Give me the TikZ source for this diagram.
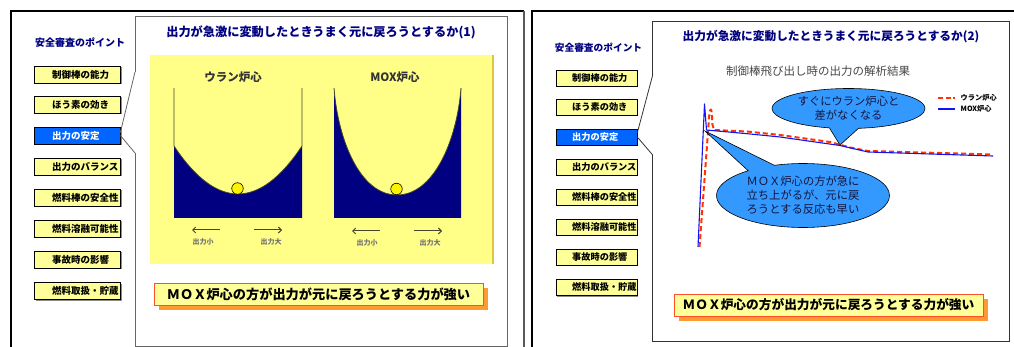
\documentclass[tikz,border=0pt]{standalone}
\usepackage{fontspec}
\setmainfont{Noto Sans CJK JP}
\usetikzlibrary{shapes.geometric,shapes.callouts,shadows,arrows.meta,calc}
\definecolor{navy}{RGB}{0,0,128}
\definecolor{btnyellow}{RGB}{255,255,153}
\definecolor{btnblue}{RGB}{0,102,255}
\definecolor{panelyellow}{RGB}{255,255,136}
\definecolor{gold}{RGB}{225,195,70}
\definecolor{wellnavy}{RGB}{0,0,128}
\definecolor{callblue}{RGB}{51,153,255}
\definecolor{redline}{RGB}{255,51,0}
\definecolor{blueline}{RGB}{20,20,240}
\definecolor{conborder}{RGB}{255,80,40}
\definecolor{conshadow}{RGB}{255,153,51}
\definecolor{wall}{RGB}{70,70,45}
\definecolor{calltext}{RGB}{20,20,60}
\tikzset{
  frame/.style={line width=2pt, black},
  panel/.style={line width=0.8pt, black!60},
  panelR/.style={line width=0.8pt, black!80},
  sidetitle/.style={text=navy, inner sep=0pt},
  btnL/.style={draw=black, line width=0.7pt, fill=btnyellow, minimum height=17pt,
    inner xsep=18pt, inner ysep=0pt, text width=50pt, align=left,
    font=\fontsize{9.5}{10}\selectfont\bfseries,
    drop shadow={shadow xshift=1.5pt, shadow yshift=-1.5pt, fill=black!45, opacity=1}},
  btnR/.style={btnL, minimum height=16pt, inner xsep=16.3pt, text width=48.4pt,
    font=\fontsize{9.2}{10}\selectfont\bfseries},
  sel/.style={fill=btnblue, text=white, draw=black},
  maintitle/.style={text=navy, inner sep=0pt},
  welllabel/.style={text=black!80, inner sep=0pt, font=\fontsize{11.5}{12}\selectfont\bfseries},
  dirlabel/.style={text=black!55, inner sep=0pt, font=\fontsize{7}{8}\selectfont\bfseries},
  dirarrow/.style={draw=wall, line width=1pt, -{Straight Barb[length=3pt,width=6pt]}},
  wallline/.style={draw=wall, line width=0.8pt},
  ball/.style={circle, draw=black, line width=0.6pt, fill=yellow, minimum size=11.5pt, inner sep=0pt},
  concl/.style={draw=conborder, line width=0.8pt, fill=btnyellow, minimum height=22pt,
    inner sep=0pt, drop shadow={shadow xshift=5pt, shadow yshift=-5pt, fill=conshadow, opacity=1}},
  callout/.style={ellipse callout, draw=black, line width=0.6pt, fill=callblue, inner sep=0pt,
    align=center, text=calltext, font=\fontsize{11.3}{14}\selectfont},
  reddash/.style={draw=redline, line width=2pt, dash pattern=on 5pt off 3pt},
  bluesolid/.style={draw=blueline, line width=1.1pt},
  legendtext/.style={anchor=west, inner sep=0pt, font=\fontsize{7.2}{8}\selectfont\bfseries},
}
\begin{document}
\begin{tikzpicture}[x=1pt,y=-1pt]
\useasboundingbox (0,0) rectangle (1014,347);
\fill[white] (0,0) rectangle (1014,347);

% outer frames
\draw[frame] (10.5,347) -- (10.5,11) -- (524,11);
\draw[line width=2pt, black!65] (524,11) -- (524,347);
\draw[frame] (532,347) -- (532,11) -- (1014,11);

% ================= LEFT SLIDE =================
\node[sidetitle, font=\fontsize{10}{11}\selectfont\bfseries] (lt) at (80,43) {安全審査のポイント};
\node[btnL] (lb1) at (77,74.5) {制御棒の能力};
\node[btnL] (lb2) at (77,104.5) {ほう素の効き};
\node[btnL, sel] (lb3) at (77,135.5) {出力の安定};
\node[btnL] (lb4) at (77,166.5) {出力のバランス};
\node[btnL] (lb5) at (77,197.5) {燃料棒の安全性};
\node[btnL] (lb6) at (77,228.5) {燃料溶融可能性};
\node[btnL] (lb7) at (77,259.5) {事故時の影響};
\node[btnL] (lb8) at (77,290.5) {燃料取扱・貯蔵};

\coordinate (pa1) at (135,72);
\coordinate (pa2) at (135,153);
\draw[panel] (pa1) -- (135,16) -- (507,16) -- (507,346) -- (135,346) -- (pa2);
\draw[panel] (pa1) -- ($(lb3.east)+(0,-3)$);
\draw[panel] ($(lb3.east)+(0,0)$) -- (pa2);

\node[maintitle, font=\fontsize{12.2}{13}\selectfont\bfseries] (t1) at (321,32.5)
  {出力が急激に変動したときうまく元に戻ろうとするか(1)};

% yellow area
\fill[panelyellow] (150,55) rectangle (493,264);
\draw[gold, line width=1.5pt] (493,55) -- (493,264);

\node[welllabel] (wu) at (233,77) {ウラン炉心};
\node[welllabel] (wm) at (395,77) {MOX炉心};

% uranium well
\fill[wellnavy] (174,146) .. controls (195.3,178) and (216.7,194) .. (238,194)
  .. controls (259.3,194) and (280.7,178) .. (302,146) -- (302,218) -- (174,218) -- cycle;
\draw[wallline] (174,88) -- (174,146) .. controls (195.3,178) and (216.7,194) .. (238,194)
  .. controls (259.3,194) and (280.7,178) .. (302,146) -- (302,88);
\node[ball] (bu) at (237.5,188.5) {};

% MOX well
\fill[wellnavy] (334,88) .. controls (338,140) and (360,195) .. (397,195)
  .. controls (434,195) and (457,140) .. (461,88) -- (461,218) -- (334,218) -- cycle;
\draw[wallline] (334,88) .. controls (338,140) and (360,195) .. (397,195)
  .. controls (434,195) and (457,140) .. (461,88);
\node[ball] (bm) at (396.5,189) {};

% direction arrows
\coordinate (a1s) at (220,230); \coordinate (a1e) at (192,230);
\coordinate (a2s) at (254,230); \coordinate (a2e) at (282,230);
\coordinate (a3s) at (380,231); \coordinate (a3e) at (352,231);
\coordinate (a4s) at (414,231); \coordinate (a4e) at (442,231);
\draw[dirarrow] (a1s) -- (a1e);
\draw[dirarrow] (a2s) -- (a2e);
\draw[dirarrow] (a3s) -- (a3e);
\draw[dirarrow] (a4s) -- (a4e);
\node[dirlabel] (d1) at (203,242) {出力小};
\node[dirlabel] (d2) at (271,242) {出力大};
\node[dirlabel] (d3) at (367,243) {出力小};
\node[dirlabel] (d4) at (430,243) {出力大};

\node[concl, minimum width=329pt, font=\fontsize{13.2}{14}\selectfont\bfseries] (k1) at (318.5,294)
  {ＭＯＸ炉心の方が出力が元に戻ろうとする力が強い};

% ================= RIGHT SLIDE =================
\node[sidetitle, font=\fontsize{9.7}{11}\selectfont\bfseries] (rt) at (598.5,48) {安全審査のポイント};
\node[btnR] (rb1) at (596.4,78) {制御棒の能力};
\node[btnR] (rb2) at (596.4,107) {ほう素の効き};
\node[btnR, sel] (rb3) at (596.4,137) {出力の安定};
\node[btnR] (rb4) at (596.4,167) {出力のバランス};
\node[btnR] (rb5) at (596.4,197) {燃料棒の安全性};
\node[btnR] (rb6) at (596.4,227) {燃料溶融可能性};
\node[btnR] (rb7) at (596.4,257) {事故時の影響};
\node[btnR] (rb8) at (596.4,287) {燃料取扱・貯蔵};

\coordinate (pb1) at (652.7,75);
\coordinate (pb2) at (652.7,155);
\draw[panelR] (pb1) -- (652.7,21.7) -- (1009,21.7) -- (1009,341) -- (652.7,341) -- (pb2);
\draw[panelR] (pb1) -- ($(rb3.east)+(0,-4)$);
\draw[panelR] ($(rb3.east)+(0,0)$) -- (pb2);

\node[maintitle, font=\fontsize{11.7}{13}\selectfont\bfseries] (t2) at (831,37)
  {出力が急激に変動したときうまく元に戻ろうとするか(2)};
\node[inner sep=0pt, text=black!72, font=\fontsize{11.5}{12}\selectfont] (st) at (818,71)
  {制御棒飛び出し時の出力の解析結果};

% legend
\coordinate (lg1a) at (938,98); \coordinate (lg1b) at (955,98);
\coordinate (lg2a) at (938,109); \coordinate (lg2b) at (955,109);
\draw[reddash, dash pattern=on 5pt off 2.5pt] (lg1a) -- (lg1b);
\draw[bluesolid] (lg2a) -- (lg2b);
\node[legendtext] (lgt1) at (960.5,98) {ウラン炉心};
\node[legendtext] (lgt2) at (960.5,109) {MOX炉心};

% curves
\draw[reddash, line join=round] (699.5,247) -- (708.3,128) .. controls (709.5,104) and (712,104) .. (712.3,124)
  -- (714,130) -- (747,131.5) -- (780,135) -- (830,142) -- (850,147.5) -- (868,151) -- (993,154.5);
\draw[bluesolid, line join=round] (698,247) -- (704.5,104) -- (706.5,130) -- (745,133.5) -- (780,137)
  -- (840,145.5) -- (868,152) -- (993,156);

% callouts
\node[callout, minimum width=153pt, minimum height=40pt, callout absolute pointer={(840,145)},
  callout pointer arc=22] (c1) at (848.5,108.5) {すぐにウラン炉心と\\差がなくなる};
\node[callout, minimum width=173pt, minimum height=64pt, callout absolute pointer={(705,131)},
  callout pointer arc=20] (c2) at (803,195.5) {ＭＯＸ炉心の方が急に\\立ち上がるが、元に戻\\ろうとする反応も早い};

\node[concl, minimum width=309pt, font=\fontsize{12.7}{14}\selectfont\bfseries] (k2) at (828.5,305)
  {ＭＯＸ炉心の方が出力が元に戻ろうとする力が強い};
\end{tikzpicture}
\end{document}
